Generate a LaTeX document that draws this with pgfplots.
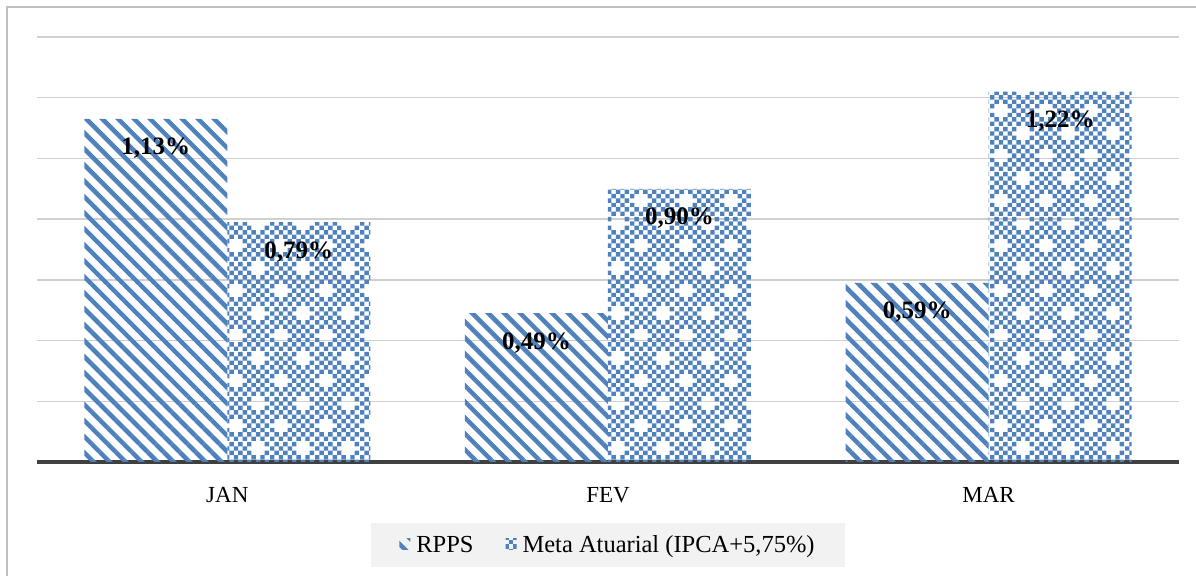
\documentclass[border=0pt]{standalone}
\usepackage{pgfplots}
\pgfplotsset{compat=1.18}
\usepackage{fontspec}
\setmainfont{Liberation Serif}
\usetikzlibrary{patterns,patterns.meta}

\definecolor{barblue}{HTML}{4F81BD}
\definecolor{gridgray}{HTML}{D0D0D0}
\definecolor{basegray}{HTML}{404040}
\definecolor{framegray}{HTML}{BFBFBF}
\definecolor{legendbg}{HTML}{F2F2F2}

% checkerboard with small white crosses (Excel style fill)
\pgfdeclarepatternformonly{checkx}{\pgfpointorigin}{\pgfqpoint{45bp}{45bp}}{\pgfqpoint{45bp}{45bp}}{%
  \foreach \i in {0,...,9}{%
    \foreach \j in {0,...,9}{%
      \pgfmathtruncatemacro{\b}{(mod(\i+\j,2)==0) && !((\i==1 && \j==3) || (\i==3 && \j==3) || (\i==2 && \j==2) || (\i==2 && \j==4) || (\i==6 && \j==8) || (\i==8 && \j==8) || (\i==7 && \j==7) || (\i==7 && \j==9))}%
      \ifnum\b=1
        \pgfpathrectangle{\pgfpoint{\i*4.5bp}{\j*4.5bp}}{\pgfqpoint{4.5bp}{4.5bp}}%
        \pgfusepath{fill}%
      \fi
    }%
  }%
}

\begin{document}
\begin{tikzpicture}
\useasboundingbox (0,0) rectangle (1196bp,576bp);
\draw[framegray, line width=2bp] (7bp,-20bp) -- (7bp,569bp) -- (1230bp,569bp);
\begin{axis}[
    at={(37bp,114bp)}, anchor=south west,
    scale only axis,
    width=1142bp, height=425bp,
    ybar=0pt,
    bar width=143bp,
    xmin=-0.5, xmax=2.5,
    ymin=0, ymax=1.4,
    enlargelimits=false,
    axis x line*=bottom,
    axis y line*=left,
    x axis line style={draw=basegray, line width=3.3bp, -},
    y axis line style={draw=none},
    xtick=data,
    xticklabels={JAN,FEV,MAR},
    xtick style={draw=none},
    ytick={0.2,0.4,...,1.41},
    yticklabels={},
    ytick style={draw=none},
    ymajorgrids,
    major grid style={gridgray, line width=1.3bp},
    xticklabel style={font=\fontsize{23bp}{27bp}\selectfont, inner sep=0pt, anchor=north, yshift=-21bp},
    nodes near coords={\pgfmathprintnumber{\pgfplotspointmeta}\%},
    /pgf/number format/.cd, use comma, fixed, fixed zerofill, precision=2, assume math mode=true,
    /pgfplots/.cd,
    every node near coord/.append style={font=\fontsize{25bp}{30bp}\selectfont\bfseries, text=black, inner sep=0pt, anchor=north, yshift=-19bp},
    legend columns=2,
    legend style={at={(0.5,-0.195)}, anchor=center, fill=legendbg, draw=none,
        font=\fontsize{24.5bp}{28bp}\selectfont, inner xsep=28bp, inner ysep=11bp,
        /tikz/every odd column/.append style={column sep=4bp},
        /tikz/every even column/.append style={column sep=30bp}},
    legend image code/.code={\fill[#1] (0bp,-5bp) rectangle (11bp,6bp);},
]
\addplot[draw=none, pattern={Lines[angle=-45, distance=11.3bp, line width=4.5bp]}, pattern color=barblue]
    coordinates {(0,1.13) (1,0.49) (2,0.59)};
\addplot[draw=none, pattern=checkx, pattern color=barblue]
    coordinates {(0,0.79) (1,0.90) (2,1.22)};
\legend{RPPS, {Meta Atuarial (IPCA+5,75\%)}}
\end{axis}
\end{tikzpicture}
\end{document}
